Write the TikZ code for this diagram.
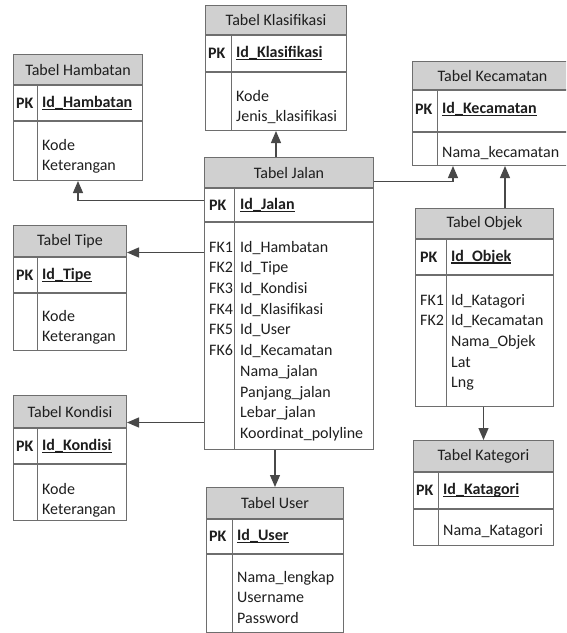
\documentclass[tikz,border=0pt]{standalone}
\usepackage{fontspec}
\setmainfont{Carlito}
\usetikzlibrary{arrows.meta}

\definecolor{garis}{HTML}{6E6E6E}
\definecolor{kepala}{HTML}{D0D0D0}
\definecolor{panahc}{HTML}{484848}
\definecolor{teks}{HTML}{1E1E1E}

\newcommand{\garisbawah}[1]{\setbox0=\hbox{#1}\rlap{\rule[-2.4pt]{\wd0}{1.2pt}}\box0}

\tikzset{
  judul/.style={draw=garis, fill=kepala, line width=1pt, anchor=north west, inner sep=0pt},
  baris/.style={draw=garis, line width=1pt, anchor=north west, inner sep=0pt},
  pk/.style={anchor=west, inner sep=0pt, font=\fontsize{16}{20.7}\selectfont\bfseries},
  isi/.style={anchor=north west, inner sep=0pt, align=left},
  sekat/.style={draw=garis, line width=1pt},
  panah/.style={draw=panahc, line width=1.2pt, -{Triangle[length=12pt,width=10pt]}}
}

\begin{document}
\begin{tikzpicture}[x=1pt, y=-1pt, font=\fontsize{16}{20.7}\selectfont, text=teks]
        \clip (0,0) rectangle (566,633);

        % Tabel Klasifikasi
        \node[judul, minimum width=141, minimum height=29] (klaH) at (205,5) {Tabel Klasifikasi};
        \node[baris, minimum width=141, minimum height=36] (klaP) at (klaH.south west) {};
        \node[baris, minimum width=141, minimum height=58] (klaB) at (klaP.south west) {};
        \draw[sekat] ([xshift=26]klaP.north west) -- ([xshift=26]klaB.south west);
        \node[pk] (klaPK) at ([xshift=3]klaP.west) {PK};
        \node[pk] (klaId) at ([xshift=31]klaP.west) {\garisbawah{Id\_Klasifikasi}};
        \node[isi] (klaIsi) at ([xshift=31,yshift=-14.5]klaB.north west) {\strut Kode\\Jenis\_klasifikasi};

        % Tabel Hambatan
        \node[judul, minimum width=129, minimum height=30] (hamH) at (13,54) {Tabel Hambatan};
        \node[baris, minimum width=129, minimum height=35] (hamP) at (hamH.south west) {};
        \node[baris, minimum width=129, minimum height=59] (hamB) at (hamP.south west) {};
        \draw[sekat] ([xshift=24]hamP.north west) -- ([xshift=24]hamB.south west);
        \node[pk] (hamPK) at ([xshift=3]hamP.west) {PK};
        \node[pk] (hamId) at ([xshift=29]hamP.west) {\garisbawah{Id\_Hambatan}};
        \node[isi] (hamIsi) at ([xshift=29,yshift=-14.5]hamB.north west) {\strut Kode\\Keterangan};

        % Tabel Kecamatan
        \node[judul, minimum width=160, minimum height=28] (kecH) at (412,61) {Tabel Kecamatan};
        \node[baris, minimum width=160, minimum height=41] (kecP) at (kecH.south west) {};
        \node[baris, minimum width=160, minimum height=33] (kecB) at (kecP.south west) {};
        \draw[sekat] ([xshift=25]kecP.north west) -- ([xshift=25]kecB.south west);
        \node[pk] (kecPK) at ([xshift=3,yshift=2]kecP.west) {PK};
        \node[pk] (kecId) at ([xshift=30,yshift=2]kecP.west) {\garisbawah{Id\_Kecamatan}};
        \node[isi] (kecIsi) at ([xshift=30,yshift=-10.5]kecB.north west) {\strut Nama\_kecamatan};

        % Tabel Jalan
        \node[judul, minimum width=169, minimum height=30] (jalH) at (204,157) {Tabel Jalan};
        \node[baris, minimum width=169, minimum height=33] (jalP) at (jalH.south west) {};
        \node[baris, minimum width=169, minimum height=227] (jalB) at (jalP.south west) {};
        \draw[sekat] ([xshift=30]jalP.north west) -- ([xshift=30]jalB.south west);
        \node[pk] (jalPK) at ([xshift=5]jalP.west) {PK};
        \node[pk] (jalId) at ([xshift=36]jalP.west) {\garisbawah{Id\_Jalan}};
        \node[isi] (jalFK) at ([xshift=5,yshift=-15.5]jalB.north west) {\strut FK1\\FK2\\FK3\\FK4\\FK5\\FK6};
        \node[isi] (jalIsi) at ([xshift=36,yshift=-15.5]jalB.north west)
          {\strut Id\_Hambatan\\Id\_Tipe\\Id\_Kondisi\\Id\_Klasifikasi\\Id\_User\\Id\_Kecamatan\\Nama\_jalan\\Panjang\_jalan\\Lebar\_jalan\\Koordinat\_polyline};

        % Tabel Tipe
        \node[judul, minimum width=113, minimum height=31] (tipH) at (13,225) {Tabel Tipe};
        \node[baris, minimum width=113, minimum height=35] (tipP) at (tipH.south west) {};
        \node[baris, minimum width=113, minimum height=57] (tipB) at (tipP.south west) {};
        \draw[sekat] ([xshift=24]tipP.north west) -- ([xshift=24]tipB.south west);
        \node[pk] (tipPK) at ([xshift=3]tipP.west) {PK};
        \node[pk] (tipId) at ([xshift=29]tipP.west) {\garisbawah{Id\_Tipe}};
        \node[isi] (tipIsi) at ([xshift=29,yshift=-13.5]tipB.north west) {\strut Kode\\Keterangan};

        % Tabel Kondisi
        \node[judul, minimum width=113, minimum height=32] (konH) at (13,395) {Tabel Kondisi};
        \node[baris, minimum width=113, minimum height=35] (konP) at (konH.south west) {};
        \node[baris, minimum width=113, minimum height=56] (konB) at (konP.south west) {};
        \draw[sekat] ([xshift=24]konP.north west) -- ([xshift=24]konB.south west);
        \node[pk] (konPK) at ([xshift=3]konP.west) {PK};
        \node[pk] (konId) at ([xshift=29]konP.west) {\garisbawah{Id\_Kondisi}};
        \node[isi] (konIsi) at ([xshift=29,yshift=-15.5]konB.north west) {\strut Kode\\Keterangan};

        % Tabel User
        \node[judul, minimum width=137, minimum height=31] (usrH) at (206,487) {Tabel User};
        \node[baris, minimum width=137, minimum height=34] (usrP) at (usrH.south west) {};
        \node[baris, minimum width=137, minimum height=78] (usrB) at (usrP.south west) {};
        \draw[sekat] ([xshift=26]usrP.north west) -- ([xshift=26]usrB.south west);
        \node[pk] (usrPK) at ([xshift=3]usrP.west) {PK};
        \node[pk] (usrId) at ([xshift=31]usrP.west) {\garisbawah{Id\_User}};
        \node[isi] (usrIsi) at ([xshift=31,yshift=-13.5]usrB.north west) {\strut Nama\_lengkap\\Username\\Password};

        % Tabel Objek
        \node[judul, minimum width=138, minimum height=30] (objH) at (415,208) {Tabel Objek};
        \node[baris, minimum width=138, minimum height=35] (objP) at (objH.south west) {};
        \node[baris, minimum width=138, minimum height=131] (objB) at (objP.south west) {};
        \draw[sekat] ([xshift=31]objP.north west) -- ([xshift=31]objB.south west);
        \node[pk] (objPK) at ([xshift=5]objP.west) {PK};
        \node[pk] (objId) at ([xshift=36]objP.west) {\garisbawah{Id\_Objek}};
        \node[isi] (objFK) at ([xshift=5,yshift=-15.5]objB.north west) {\strut FK1\\FK2};
        \node[isi] (objIsi) at ([xshift=36,yshift=-15.5]objB.north west) {\strut Id\_Katagori\\Id\_Kecamatan\\Nama\_Objek\\Lat\\Lng};

        % Tabel Kategori
        \node[judul, minimum width=140, minimum height=31] (katH) at (413,440) {Tabel Kategori};
        \node[baris, minimum width=140, minimum height=36] (katP) at (katH.south west) {};
        \node[baris, minimum width=140, minimum height=36] (katB) at (katP.south west) {};
        \draw[sekat] ([xshift=25]katP.north west) -- ([xshift=25]katB.south west);
        \node[pk] (katPK) at ([xshift=3]katP.west) {PK};
        \node[pk] (katId) at ([xshift=30]katP.west) {\garisbawah{Id\_Katagori}};
        \node[isi] (katIsi) at ([xshift=30,yshift=-11.5]katB.north west) {\strut Nama\_Katagori};

        % Draw arrows
        \coordinate (tipIn) at ([yshift=-11.5]tipH.east);
        \coordinate (konIn) at ([yshift=-11]konH.east);
        \coordinate (kecIn1) at ([xshift=41]kecB.south west);
        \coordinate (kecIn2) at ([xshift=93]kecB.south west);
        \draw[panah] (jalH.north -| klaB.south) -- (klaB.south);
        \draw[panah] ([yshift=4.5]jalP.west) -| (hamB.south);
        \draw[panah] (jalB.west |- tipIn) -- (tipIn);
        \draw[panah] (jalB.west |- konIn) -- (konIn);
        \draw[panah] (jalB.south -| usrH.north) -- (usrH.north);
        \draw[panah] ([yshift=-9]jalH.east) -| (kecIn1);
        \draw[panah] (objH.north -| kecIn2) -- (kecIn2);
        \draw[panah] (objB.south -| katH.north) -- (katH.north);
    \end{tikzpicture}
\end{document}
